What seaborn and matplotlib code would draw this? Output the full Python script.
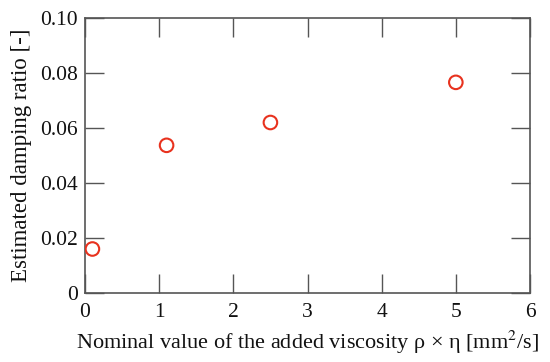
import matplotlib
matplotlib.use("Agg")
import matplotlib.pyplot as plt
import seaborn as sns
import pandas as pd

# Data
viscosity = [0.1, 1.1, 2.5, 5.0]
damping = [0.016, 0.0537, 0.062, 0.0766]

x_ticks = [0, 1, 2, 3, 4, 5, 6]
y_ticks = [0, 0.02, 0.04, 0.06, 0.08, 0.10]
y_tick_labels = ["0", "0.02", "0.04", "0.06", "0.08", "0.10"]

df = pd.DataFrame({"viscosity": viscosity, "damping": damping})

sns.set_style("ticks")
plt.rcParams['font.family'] = ['Liberation Serif', 'DejaVu Serif']
plt.rcParams['mathtext.fontset'] = 'stix'

fig = plt.figure(figsize=(5.5, 3.62), dpi=100)
ax = fig.add_axes([85/550, 1 - 293/362, 445/550, 275/362])

sns.scatterplot(data=df, x="viscosity", y="damping", ax=ax,
                marker="o", s=95, facecolors="none",
                edgecolor="#e8321e", linewidth=1.5, zorder=3)

ax.set_xlim(0, 6)
ax.set_ylim(0, 0.1)
ax.set_xticks(x_ticks)
ax.set_yticks(y_ticks)
ax.set_yticklabels(y_tick_labels)

for side in ["top", "right", "left", "bottom"]:
    ax.spines[side].set_visible(True)
    ax.spines[side].set_color("#555555")
    ax.spines[side].set_linewidth(1.2)

ax.tick_params(direction="in", length=14, width=1.0, color="#555555",
               top=True, right=True, labelsize=15.5, pad=5, labelcolor="#111111")
ax.tick_params(axis="x", pad=7)

ax.set_xlabel("Nominal value of the added viscosity ρ × η [mm$^2$/s]",
              fontsize=16, color="#111111", labelpad=5)
ax.set_ylabel("Estimated damping ratio [-]", fontsize=16.5, color="#111111",
              labelpad=6)

fig.savefig("out.png", dpi=100)
